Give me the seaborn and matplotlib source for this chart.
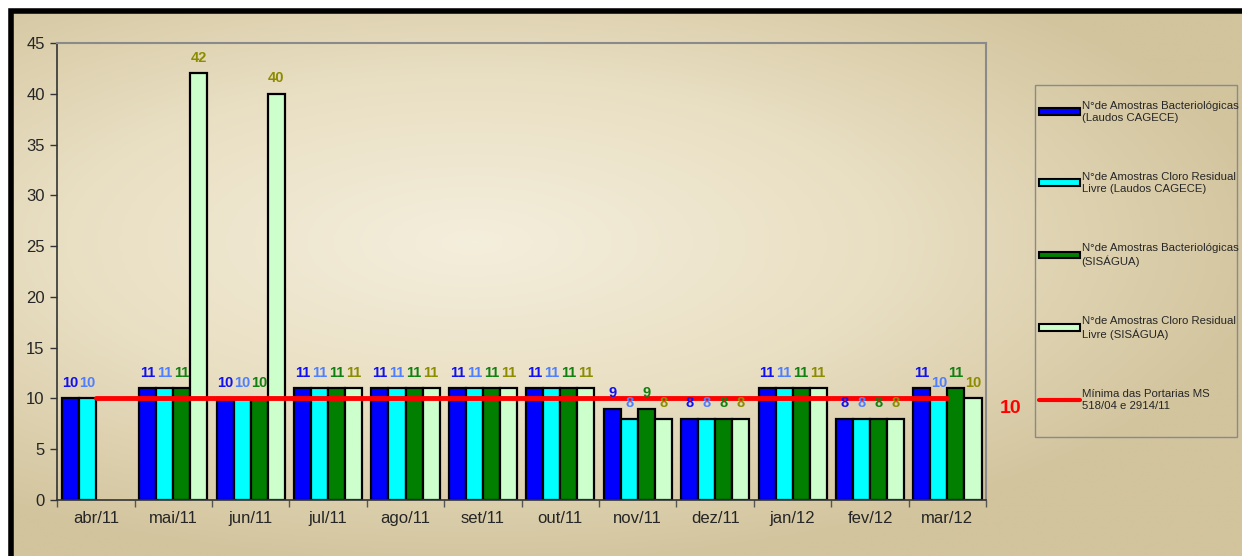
import numpy as np
import pandas as pd
import seaborn as sns
import matplotlib.pyplot as plt
from matplotlib.patches import Patch, Rectangle
from matplotlib.lines import Line2D
from matplotlib.colors import LinearSegmentedColormap

# data
meses = ['abr/11', 'mai/11', 'jun/11', 'jul/11', 'ago/11', 'set/11',
         'out/11', 'nov/11', 'dez/11', 'jan/12', 'fev/12', 'mar/12']
bact_cagece = [10, 11, 10, 11, 11, 11, 11, 9, 8, 11, 8, 11]
cloro_cagece = [10, 11, 10, 11, 11, 11, 11, 8, 8, 11, 8, 10]
bact_sisagua = [np.nan, 11, 10, 11, 11, 11, 11, 9, 8, 11, 8, 11]
cloro_sisagua = [np.nan, 42, 40, 11, 11, 11, 11, 8, 8, 11, 8, 10]
minimo = [10] * len(meses)

series = ['N°de Amostras Bacteriológicas\n(Laudos CAGECE)',
          'N°de Amostras Cloro Residual\nLivre (Laudos CAGECE)',
          'N°de Amostras Bacteriológicas\n(SISÁGUA)',
          'N°de Amostras Cloro Residual\nLivre (SISÁGUA)']
label_minimo = 'Mínima das Portarias MS\n518/04 e 2914/11'
cores = ['#0000FF', '#00FFFF', '#007F00', '#CCFFCC']
cores_txt = ['#1010F0', '#4F7FFF', '#108010', '#8C8C00']

df = pd.DataFrame({
    'mes': meses * 4,
    'serie': sum([[s] * len(meses) for s in series], []),
    'valor': bact_cagece + cloro_cagece + bact_sisagua + cloro_sisagua,
})

sns.set_theme(style='white')
plt.rcParams['font.family'] = ['Liberation Sans', 'DejaVu Sans']

W, H = 1242, 556
fig = plt.figure(figsize=(W / 100, H / 100), dpi=100)
fig.patch.set_facecolor('white')

# beige gradient background inside the black frame
bg = fig.add_axes([0.009, 0, 0.991, 0.981], zorder=-10)
yy, xx = np.mgrid[-1:1:200j, -1:1:400j]
d = np.sqrt(((xx + 0.25) / 1.1) ** 2 + ((yy + 0.15) / 1.0) ** 2)
cmap = LinearSegmentedColormap.from_list('bege', ['#f4eedc', '#e9dfc3', '#d2c49d'])
bg.imshow(np.clip(d, 0, 1.2), cmap=cmap, aspect='auto', extent=[0, 1, 0, 1])
bg.set_axis_off()
fig.add_artist(Rectangle((0.009, -0.02), 1.0, 1.0, transform=fig.transFigure,
                         fill=False, edgecolor='black', linewidth=4, zorder=5))

ax = fig.add_axes([0.046, 0.1007, 0.748, 0.822])
ax.patch.set_alpha(0)

sns.barplot(data=df, x='mes', y='valor', hue='serie', palette=cores,
            hue_order=series, order=meses, edgecolor='black', linewidth=1.6,
            width=0.88, saturation=1, ax=ax, legend=False)

ax.plot(np.arange(len(meses)), minimo, color='#FF0000', linewidth=3.5, zorder=6)

for cont, c in zip(ax.containers, cores_txt):
    ax.bar_label(cont, fmt='%d', padding=6, color=c, fontsize=10.5,
                 fontweight='bold', zorder=8)

ax.text(len(meses) - 1 + 0.82, minimo[-1] - 0.15, '10', color='#FF0000',
        fontsize=14, fontweight='bold', va='top', ha='center')

ax.set_ylim(0, 45)
ax.set_xlim(-0.5, len(meses) - 0.5)
ax.set_yticks(range(0, 46, 5))
ax.set_xlabel('')
ax.set_ylabel('')
ax.tick_params(axis='y', which='major', length=5, width=1, color='#333333',
               direction='out', labelsize=12, left=True, pad=4)
ax.tick_params(axis='x', which='major', length=0, labelsize=12, pad=8)
ax.set_xticks(np.arange(-0.5, len(meses), 1), minor=True)
ax.tick_params(axis='x', which='minor', length=5, color='#555555',
               direction='out', bottom=True)
for s in ['left', 'bottom']:
    ax.spines[s].set_color('#333333')
    ax.spines[s].set_linewidth(1.2)
for s in ['top', 'right']:
    ax.spines[s].set_color('#8a8a8a')
    ax.spines[s].set_linewidth(1.5)

# legend box drawn separately so the padding matches
fig.add_artist(Rectangle((1035 / W, 1 - 437 / H), 202 / W, 352 / H,
                         transform=fig.transFigure, fill=False,
                         edgecolor='#8a8a8a', linewidth=1))
handles = [Patch(facecolor=c, edgecolor='black', linewidth=1.5) for c in cores]
handles.append(Line2D([], [], color='#FF0000', linewidth=3))
leg = fig.legend(handles, series + [label_minimo], loc='upper left',
                 bbox_to_anchor=(1039 / W, 1 - 101 / H), frameon=False,
                 fontsize=8.2, labelspacing=4.35, handlelength=3.6,
                 handleheight=0.55, handletextpad=0.15, borderpad=0,
                 borderaxespad=0)

fig.savefig('out.png', dpi=100)
